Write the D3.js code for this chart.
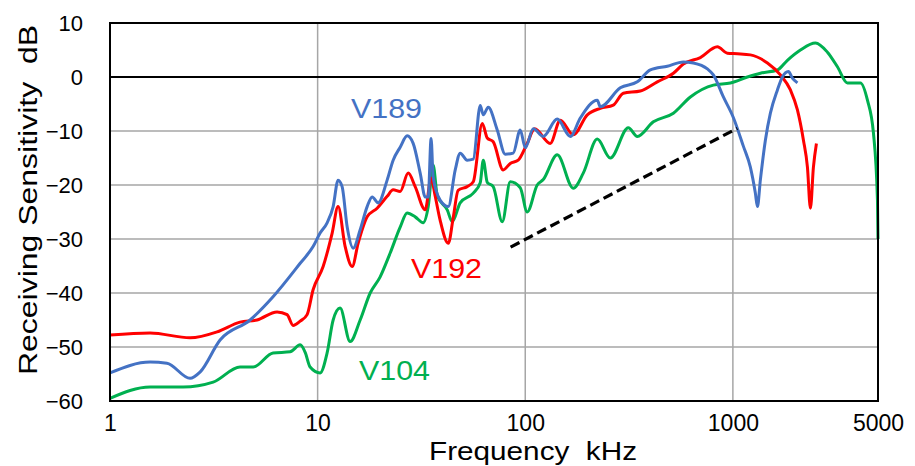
<!DOCTYPE html>
<html><head><meta charset="utf-8">
<script src="https://cdn.jsdelivr.net/npm/d3@7"></script>
<style>body{margin:0;background:#fff}svg{display:block}</style>
</head><body>
<svg id="c" width="915" height="466"></svg>
<script>
// ---- data (frequency kHz, dB) ----
const v189 = [[1,-54.8],[1.56,-52.8],[1.88,-53],[2.43,-55.8],[2.72,-54.6],[3.39,-48.7],[4.73,-45],[6.1,-40.7],[8.24,-34.5],[9.51,-31.4],[10.28,-28.9],[11.11,-27],[11.88,-24],[12.55,-19.1],[13.12,-20.3],[13.88,-27.8],[14.83,-31.7],[16.03,-28.3],[17.32,-24],[18.31,-22.2],[19.57,-23.3],[21.62,-19.1],[23.11,-15.4],[24.98,-13],[27.0,-10.9],[28.85,-12.3],[31.19,-17.8],[32.97,-22.2],[34.1,-22.2],[35.2,-11.4],[36.0,-18.5],[38.9,-22.8],[42.6,-24],[46.0,-17.2],[48.6,-14.1],[52.5,-15.4],[56.2,-15.2],[60.7,-5.3],[62.8,-7],[66.3,-5.6],[73.3,-9.8],[80.1,-14.3],[87.5,-14.1],[94.6,-9.8],[100,-13.1],[109.3,-9.6],[122.1,-11],[142.6,-7.8],[164.8,-11],[184.1,-7.6],[222.3,-4.3],[229.8,-5.5],[286.9,-2],[346.6,-0.9],[400.4,1.3],[483.4,2],[577.4,2.8],[645,2.6],[753.6,1.5],[805.4,0.4],[900,-3.7],[1005,-7.5],[1123,-12.8],[1214,-16.7],[1283,-21.5],[1313,-24],[1357,-19],[1434,-11.7],[1516,-6.7],[1639,-2.4],[1732,0],[1851,1],[1935,-0.2],[2046,-1.1]];
const v192 = [[1,-47.8],[1.56,-47.4],[2.43,-48.3],[3.28,-47.2],[4.23,-45.4],[5.11,-45],[6.38,-43.5],[7.13,-44],[7.62,-46],[8.24,-45.2],[8.9,-44],[9.51,-39.4],[10.63,-35.1],[11.75,-28.9],[12.55,-24],[13.57,-31.4],[14.67,-35.1],[15.67,-30.8],[17.32,-25.9],[19.35,-24.3],[21.62,-22.1],[23.11,-20.9],[24.98,-21.2],[27.3,-17.8],[29.5,-20.3],[32.97,-24.6],[35.2,-18.7],[36.8,-22],[38.9,-26.5],[42.6,-30.8],[45.0,-26],[47.5,-21],[52.5,-20.3],[56.2,-19.4],[62.1,-8.6],[65.6,-11.3],[70.1,-12],[78.3,-17.2],[84.7,-16],[92.5,-15.4],[102.2,-12.3],[111,-9.6],[131.9,-12.3],[147.5,-8],[170.3,-10.7],[199,-7],[229.8,-5.8],[265.5,-5.2],[296.7,-3],[358.3,-2.6],[432.6,-0.9],[516.9,0.7],[577.4,2.4],[697.3,3.6],[842,5.6],[940.8,4.4],[1051,4.3],[1214,4.1],[1467,2.6],[1694,0.4],[1893,-2.4],[2046,-6.1],[2187,-11.7],[2286,-16.7],[2363,-24.3],[2443,-16.7],[2526,-12.3]];
const v104 = [[1,-59.5],[1.56,-57.4],[2.25,-57.4],[3.14,-56.5],[4.23,-53.7],[4.89,-53.7],[6.1,-51.1],[7.37,-50.9],[8.24,-49.6],[8.71,-51],[9.2,-53.7],[10.28,-54.8],[11.11,-51.1],[11.88,-45],[12.83,-42.8],[14.34,-49],[16.03,-45],[17.91,-40],[20.01,-37],[22.36,-32.6],[24.98,-27.8],[27.0,-25.2],[29.5,-25.9],[32.25,-27],[34.1,-24],[36.0,-16.3],[37.7,-22],[42.1,-24.6],[44.5,-26.8],[48.6,-23.3],[56.2,-21.5],[60.7,-19.6],[62.8,-15.4],[65.6,-19.5],[70.1,-20.3],[77.5,-26.8],[84.7,-19.4],[94.6,-20.5],[102.2,-25],[114.2,-20],[122.1,-19],[142.6,-14.4],[170.3,-20.6],[190.3,-17.8],[222.3,-11.5],[256.8,-15],[313.6,-9.4],[346.6,-11],[414,-8.3],[516.9,-6.7],[624.2,-3.7],[805.4,-1.5],[972.7,-1.1],[1175,0],[1357,0.7],[1639,1.3],[1831,3.1],[2115,5],[2498,6.3],[2854,4.6],[3188,1.9],[3563,-1.1],[4117,-1.1],[4448,-4.3],[4754,-10.4],[4970,-22.8],[5000,-30]];
const slopeLine = [[85,-31.5],[1050,-9.5]];
const xTicks = [1,10,100,1000,5000];
const yTicks = [10,0,-10,-20,-30,-40,-50,-60];
const xGrid = [10,100,1000];
const series = [
  {name:"V104", data:v104, color:"#00B050", label:[359,380]},
  {name:"V192", data:v192, color:"#FF0000", label:[411,278]},
  {name:"V189", data:v189, color:"#4472C4", label:[351,118]}
];

const svg = d3.select("#c");
const L=110, R=878, T=23, B=401;
const x = d3.scaleLog().domain([1,5000]).range([L,R]);
const y = d3.scaleLinear().domain([-60,10]).range([B,T]);

// grid
svg.append("g").selectAll("line").data(yTicks.filter(d=>d!==0&&d!==10&&d!==-60)).join("line")
  .attr("x1",L).attr("x2",R).attr("y1",d=>y(d)).attr("y2",d=>y(d))
  .attr("stroke","#A6A6A6").attr("stroke-width",1.5);
svg.append("g").selectAll("line").data(xGrid).join("line")
  .attr("x1",d=>x(d)).attr("x2",d=>x(d)).attr("y1",T).attr("y2",B)
  .attr("stroke","#A6A6A6").attr("stroke-width",1.5);
// zero line
svg.append("line").attr("x1",L).attr("x2",R).attr("y1",y(0)).attr("y2",y(0))
  .attr("stroke","#000").attr("stroke-width",2);

// curves
const line = d3.line().x(d=>x(d[0])).y(d=>y(d[1])).curve(d3.curveMonotoneX);
svg.append("g").selectAll("path").data(series).join("path")
  .attr("d",d=>line(d.data)).attr("fill","none")
  .attr("stroke",d=>d.color).attr("stroke-width",3).attr("stroke-linejoin","round");

// dashed slope line
svg.append("path").attr("d",d3.line().x(d=>x(d[0])).y(d=>y(d[1]))(slopeLine))
  .attr("stroke","#000").attr("stroke-width",3.2).attr("stroke-dasharray","10,5").attr("fill","none");

// frame
svg.append("rect").attr("x",L).attr("y",T).attr("width",R-L).attr("height",B-T)
  .attr("fill","none").attr("stroke","#000").attr("stroke-width",2);

// axes labels
const font = "'Liberation Sans', Arial, sans-serif";
const ya = svg.append("g").attr("transform",`translate(${L-27},0)`)
  .call(d3.axisLeft(y).tickValues(yTicks).tickSize(0).tickFormat(d3.format("d")));
ya.select(".domain").remove();
ya.selectAll("text").attr("font-family",font).attr("font-size",22).attr("fill","#000").attr("dy","0.35em").attr("x",0);
const xa = svg.append("g").attr("transform",`translate(0,${B+14})`)
  .call(d3.axisBottom(x).tickValues(xTicks).tickSize(0).tickFormat(d3.format("d")));
xa.select(".domain").remove();
xa.selectAll("text").attr("font-family",font).attr("font-size",23).attr("fill","#000").attr("dy","0.71em").attr("y",0);

svg.append("text").attr("x",533).attr("y",460).attr("text-anchor","middle")
  .attr("font-family",font).attr("font-size",25).attr("fill","#000")
  .attr("textLength",208).attr("lengthAdjust","spacingAndGlyphs")
  .style("white-space","pre").text("Frequency  kHz");
svg.append("text").attr("transform","translate(37,200) rotate(-90)").attr("text-anchor","middle")
  .attr("font-family",font).attr("font-size",26).attr("fill","#000")
  .attr("textLength",350).attr("lengthAdjust","spacingAndGlyphs")
  .style("white-space","pre").text("Receiving Sensitivity  dB");

// series labels
svg.append("g").selectAll("text").data(series).join("text")
  .attr("x",d=>d.label[0]).attr("y",d=>d.label[1])
  .attr("font-family",font).attr("font-size",28).attr("fill",d=>d.color)
  .attr("textLength",71).attr("lengthAdjust","spacingAndGlyphs").text(d=>d.name);
</script>
</body></html>
